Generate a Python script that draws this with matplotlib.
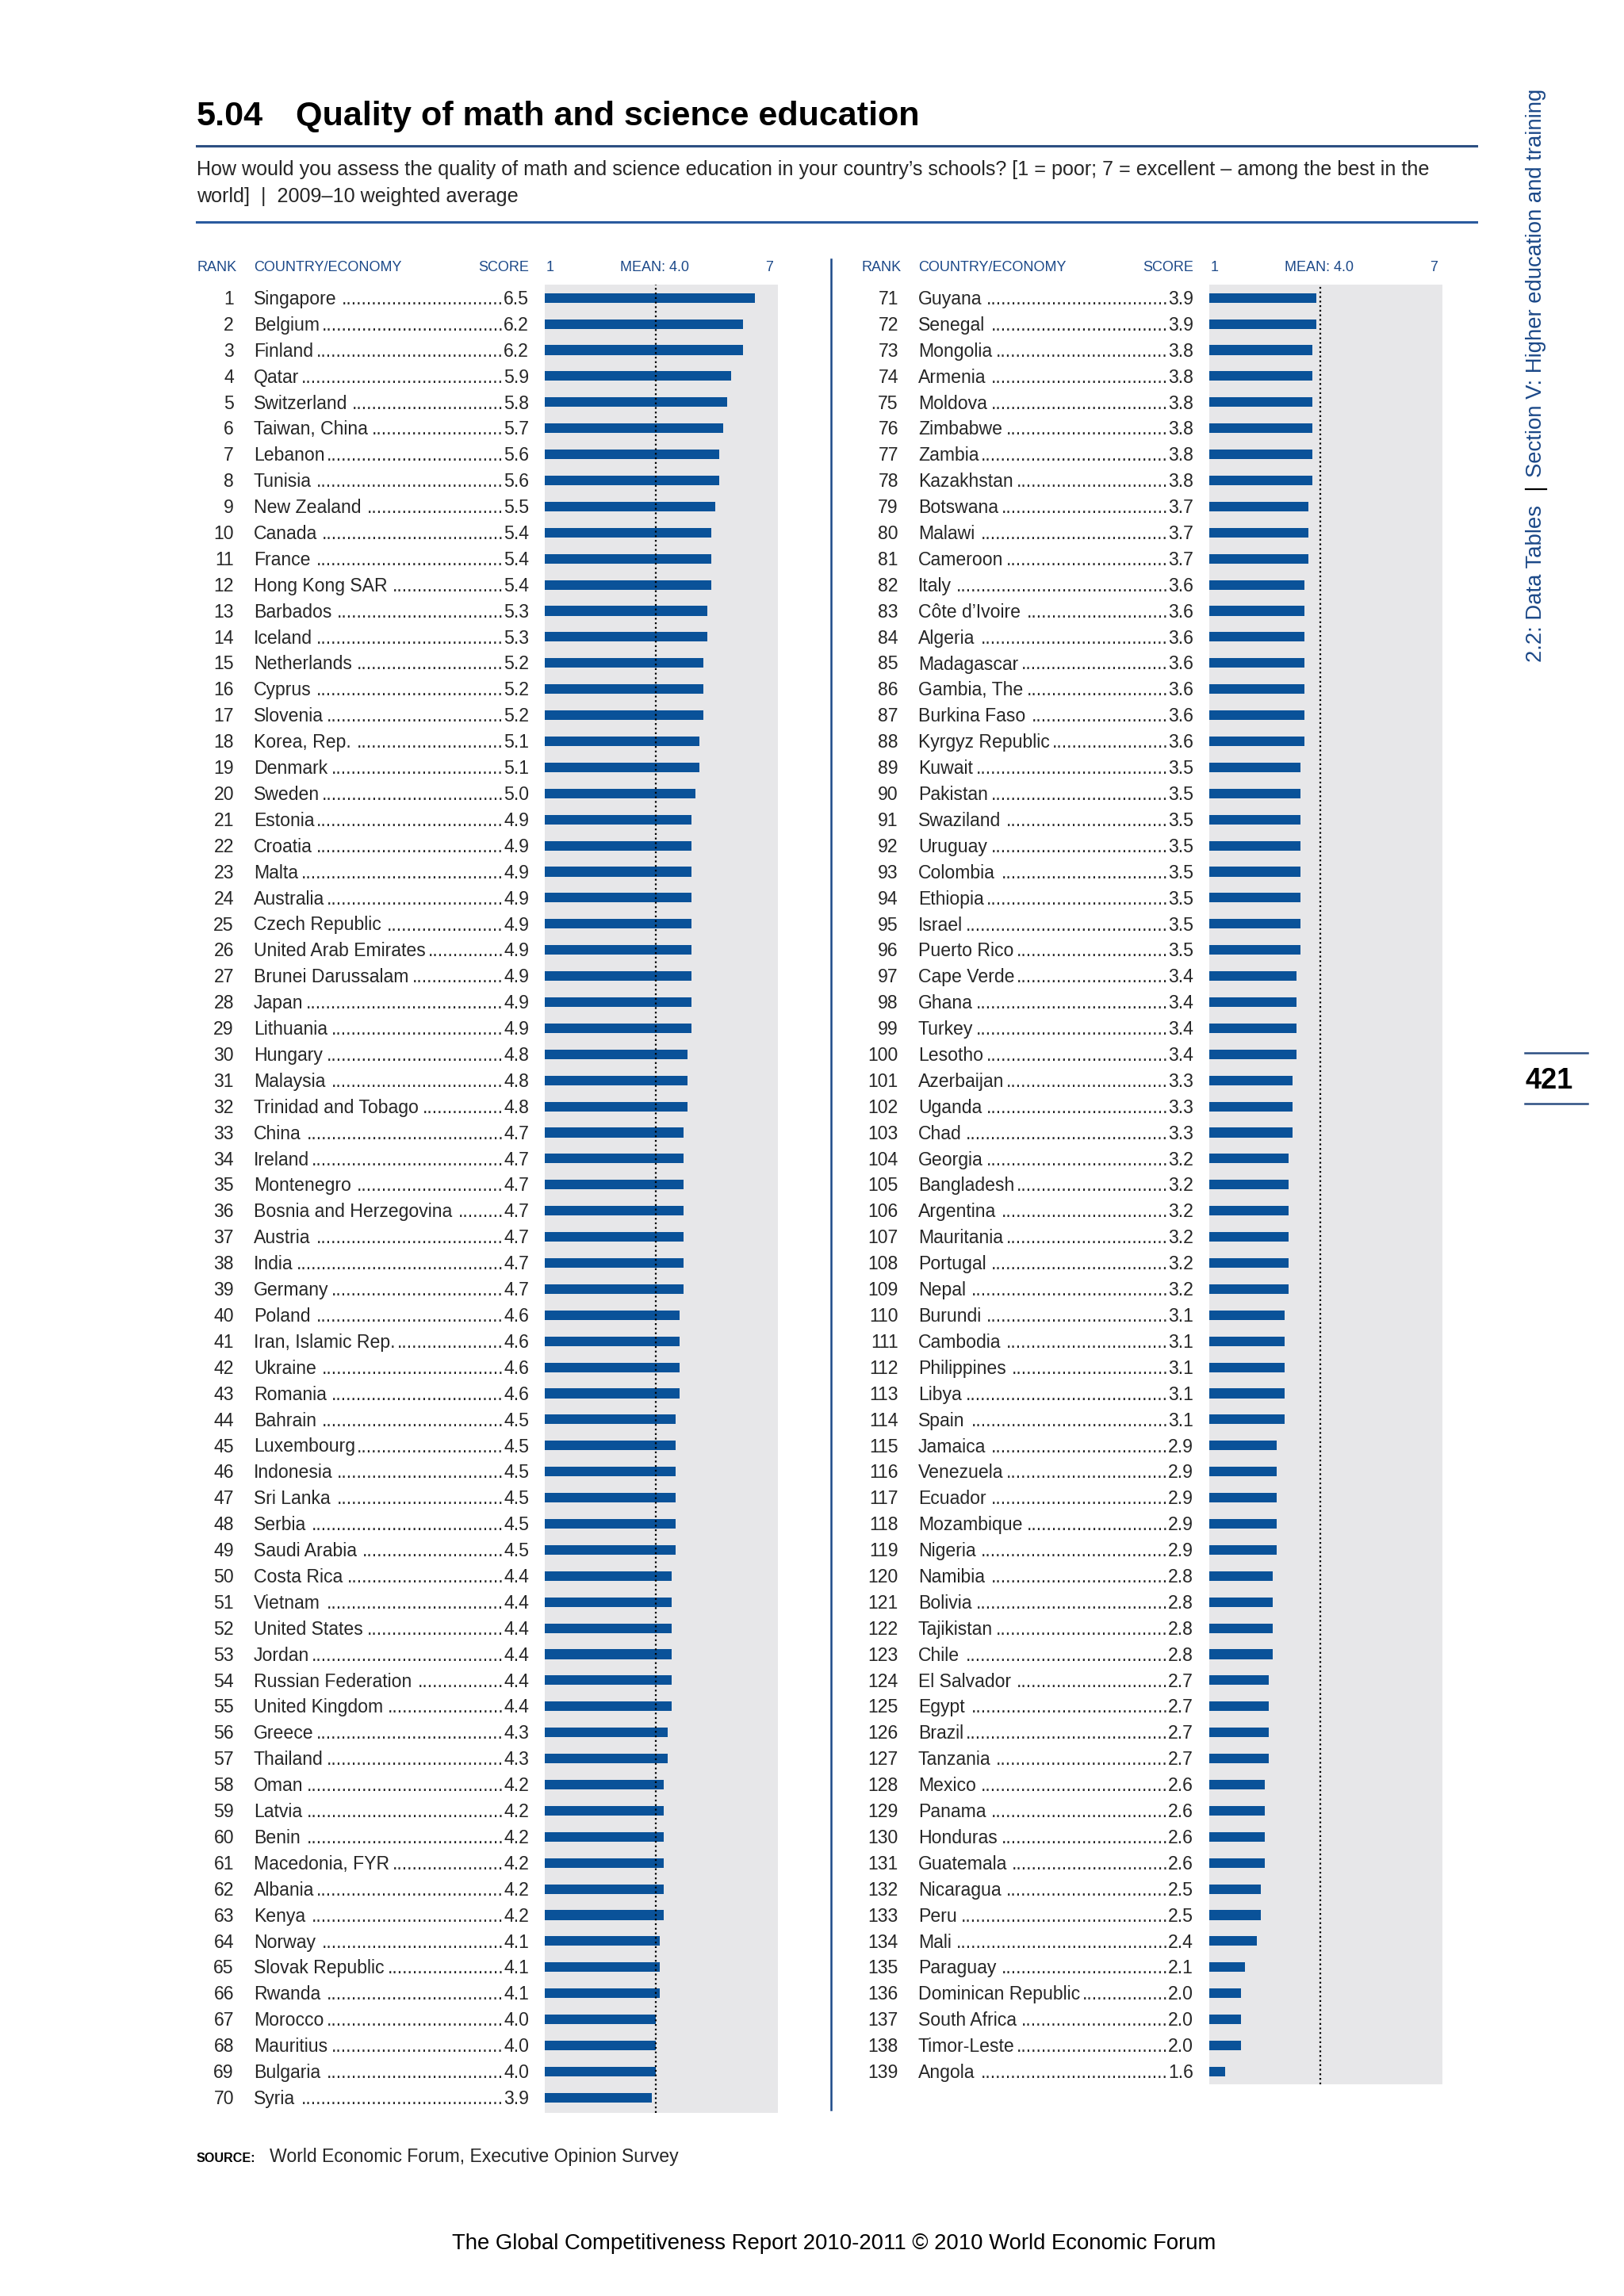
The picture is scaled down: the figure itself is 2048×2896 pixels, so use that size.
"""
Data table 5.04 -- Quality of math and science education (GCR 2010-2011).
Two-column ranked bar table, rebuilt as a single page figure.
"""

import matplotlib
matplotlib.use("Agg")
import matplotlib.pyplot as plt
from matplotlib.lines import Line2D


# ── Data ────────────────────────────────────────────────────────────────────
LEFT_COUNTRIES = [
    "Singapore", "Belgium", "Finland", "Qatar", "Switzerland", "Taiwan, China",
    "Lebanon", "Tunisia", "New Zealand", "Canada", "France", "Hong Kong SAR",
    "Barbados", "Iceland", "Netherlands", "Cyprus", "Slovenia", "Korea, Rep.",
    "Denmark", "Sweden", "Estonia", "Croatia", "Malta", "Australia",
    "Czech Republic", "United Arab Emirates", "Brunei Darussalam", "Japan",
    "Lithuania", "Hungary", "Malaysia", "Trinidad and Tobago", "China",
    "Ireland", "Montenegro", "Bosnia and Herzegovina", "Austria", "India",
    "Germany", "Poland", "Iran, Islamic Rep.", "Ukraine", "Romania", "Bahrain",
    "Luxembourg", "Indonesia", "Sri Lanka", "Serbia", "Saudi Arabia",
    "Costa Rica", "Vietnam", "United States", "Jordan", "Russian Federation",
    "United Kingdom", "Greece", "Thailand", "Oman", "Latvia", "Benin",
    "Macedonia, FYR", "Albania", "Kenya", "Norway", "Slovak Republic",
    "Rwanda", "Morocco", "Mauritius", "Bulgaria", "Syria",
]
LEFT_SCORES = [
    6.5, 6.2, 6.2, 5.9, 5.8, 5.7, 5.6, 5.6, 5.5, 5.4,
    5.4, 5.4, 5.3, 5.3, 5.2, 5.2, 5.2, 5.1, 5.1, 5.0,
    4.9, 4.9, 4.9, 4.9, 4.9, 4.9, 4.9, 4.9, 4.9, 4.8,
    4.8, 4.8, 4.7, 4.7, 4.7, 4.7, 4.7, 4.7, 4.7, 4.6,
    4.6, 4.6, 4.6, 4.5, 4.5, 4.5, 4.5, 4.5, 4.5, 4.4,
    4.4, 4.4, 4.4, 4.4, 4.4, 4.3, 4.3, 4.2, 4.2, 4.2,
    4.2, 4.2, 4.2, 4.1, 4.1, 4.1, 4.0, 4.0, 4.0, 3.9,
]
RIGHT_COUNTRIES = [
    "Guyana", "Senegal", "Mongolia", "Armenia", "Moldova", "Zimbabwe",
    "Zambia", "Kazakhstan", "Botswana", "Malawi", "Cameroon", "Italy",
    "Côte d’Ivoire", "Algeria", "Madagascar", "Gambia, The", "Burkina Faso",
    "Kyrgyz Republic", "Kuwait", "Pakistan", "Swaziland", "Uruguay",
    "Colombia", "Ethiopia", "Israel", "Puerto Rico", "Cape Verde", "Ghana",
    "Turkey", "Lesotho", "Azerbaijan", "Uganda", "Chad", "Georgia",
    "Bangladesh", "Argentina", "Mauritania", "Portugal", "Nepal", "Burundi",
    "Cambodia", "Philippines", "Libya", "Spain", "Jamaica", "Venezuela",
    "Ecuador", "Mozambique", "Nigeria", "Namibia", "Bolivia", "Tajikistan",
    "Chile", "El Salvador", "Egypt", "Brazil", "Tanzania", "Mexico", "Panama",
    "Honduras", "Guatemala", "Nicaragua", "Peru", "Mali", "Paraguay",
    "Dominican Republic", "South Africa", "Timor-Leste", "Angola",
]
RIGHT_SCORES = [
    3.9, 3.9, 3.8, 3.8, 3.8, 3.8, 3.8, 3.8, 3.7, 3.7,
    3.7, 3.6, 3.6, 3.6, 3.6, 3.6, 3.6, 3.6, 3.5, 3.5,
    3.5, 3.5, 3.5, 3.5, 3.5, 3.5, 3.4, 3.4, 3.4, 3.4,
    3.3, 3.3, 3.3, 3.2, 3.2, 3.2, 3.2, 3.2, 3.2, 3.1,
    3.1, 3.1, 3.1, 3.1, 2.9, 2.9, 2.9, 2.9, 2.9, 2.8,
    2.8, 2.8, 2.8, 2.7, 2.7, 2.7, 2.7, 2.6, 2.6, 2.6,
    2.6, 2.5, 2.5, 2.4, 2.1, 2.0, 2.0, 2.0, 1.6,
]
MEAN = 4.0

TITLE_NUM = "5.04"
TITLE = "Quality of math and science education"
SUBTITLE_1 = ("How would you assess the quality of math and science education in your "
              "country’s schools? [1 = poor; 7 = excellent – among the best in the")
SUBTITLE_2 = "world]  |  2009–10 weighted average"
SOURCE = "World Economic Forum, Executive Opinion Survey"
FOOTER = "The Global Competitiveness Report 2010-2011 © 2010 World Economic Forum"
SIDE_A = "2.2: Data Tables"
SIDE_B = "Section V: Higher education and training"
PAGE_NO = "421"


# ── Page geometry / style ───────────────────────────────────────────────────
W, H, DPI = 2048, 2896, 200
ROW0, ROW_STEP = 375.7, 32.9       # centre of first row, row pitch (px)
PANEL_DX = 838                      # offset of the right-hand column
BAR_X0, BAR_W = 687, 294            # grey plot box (px)
BOX_TOP = 359
X_MIN, X_MAX = 1.2, 7.08

BAR_BLUE = "#0a5299"
HEAD_BLUE = "#1b4888"
RULE_BLUE = "#2c4f82"
GREY_BG = "#e7e7e9"
INK = "#262626"

SANS = ["Liberation Sans", "DejaVu Sans"]
plt.rcParams["font.family"] = SANS

ROW_FS = 8.3
HEAD_FS = 6.5

fig = plt.figure(figsize=(W / DPI, H / DPI), dpi=DPI)
fig.patch.set_facecolor("white")
renderer = fig.canvas.get_renderer()


def put(x, y, s, **kw):
    return fig.text(x / W, 1 - y / H, s, **kw)


def width_px(t):
    return t.get_window_extent(renderer).width


def fit(t, target):
    t.set_fontsize(t.get_fontsize() * target / width_px(t))


def hline(x0, x1, y, lw, color):
    fig.add_artist(Line2D([x0 / W, x1 / W], [1 - y / H, 1 - y / H],
                          transform=fig.transFigure, lw=lw, color=color))


# ── Title block ─────────────────────────────────────────────────────────────
tt = put(373, 158, TITLE, weight="bold", fontsize=17, color="black")
fit(tt, 790)
put(248, 158, TITLE_NUM, weight="bold", fontsize=tt.get_fontsize(), color="black")
hline(248, 1862, 184, 1.1, RULE_BLUE)

t = put(248, 221, SUBTITLE_1, fontsize=8.3, color=INK)
fit(t, 1548)
put(248, 255, SUBTITLE_2, fontsize=t.get_fontsize(), color=INK)
hline(248, 1862, 280, 1.1, "#2a5a9e")


# ── Two ranked columns ──────────────────────────────────────────────────────
dot_probe = put(0, 0, "." * 40, fontsize=ROW_FS)
DOT_W = width_px(dot_probe) / 40
dot_probe.remove()


def draw_panel(dx, first_rank, names, scores, bottom_px):
    n = len(scores)
    ax = fig.add_axes([(BAR_X0 + dx) / W, 1 - bottom_px / H,
                       BAR_W / W, (bottom_px - BOX_TOP) / H])
    ax.set_facecolor(GREY_BG)
    ax.barh(range(n), [s - X_MIN for s in scores], left=X_MIN,
            height=0.37, color=BAR_BLUE, zorder=2)
    ax.axvline(MEAN, color="black", lw=0.8, ls=(0, (1, 1.6)), zorder=3)
    ax.set_xlim(X_MIN, X_MAX)
    ax.set_ylim((bottom_px - ROW0) / ROW_STEP, (BOX_TOP - ROW0) / ROW_STEP)
    ax.set_xticks([])
    ax.set_yticks([])
    for sp in ax.spines.values():
        sp.set_visible(False)

    # column headers
    hy = 342
    put(249 + dx, hy, "RANK", fontsize=HEAD_FS, color=HEAD_BLUE)
    put(320 + dx, hy, "COUNTRY/ECONOMY", fontsize=HEAD_FS, color=HEAD_BLUE)
    put(667 + dx, hy, "SCORE", fontsize=HEAD_FS, color=HEAD_BLUE, ha="right")
    put(689 + dx, hy, "1", fontsize=HEAD_FS, color=HEAD_BLUE)
    put(826 + dx, hy, f"MEAN: {MEAN:.1f}", fontsize=HEAD_FS, color=HEAD_BLUE, ha="center")
    put(970 + dx, hy, "7", fontsize=HEAD_FS, color=HEAD_BLUE, ha="center")

    # rank, name, dotted leader, score
    for i, (name, score) in enumerate(zip(names, scores)):
        yb = ROW0 + i * ROW_STEP + 8.2
        put(295 + dx, yb, str(first_rank + i), ha="right", fontsize=ROW_FS, color=INK)
        tn = put(320 + dx, yb, name, fontsize=ROW_FS, color=INK)
        ts = put(667 + dx, yb, f"{score:.1f}", ha="right", fontsize=ROW_FS, color=INK)
        score_left = 667 + dx - width_px(ts)
        gap = score_left - (320 + dx + width_px(tn)) - 2
        if gap > DOT_W:
            put(score_left, yb, "." * int(gap / DOT_W), ha="right",
                fontsize=ROW_FS, color=INK)


draw_panel(0, 1, LEFT_COUNTRIES, LEFT_SCORES, 2665)
draw_panel(PANEL_DX, 71, RIGHT_COUNTRIES, RIGHT_SCORES, 2629)

# column divider
fig.add_artist(Line2D([1048 / W, 1048 / W], [1 - 327 / H, 1 - 2661 / H],
                      transform=fig.transFigure, lw=0.9, color=HEAD_BLUE))


# ── Source + footer ─────────────────────────────────────────────────────────
put(248, 2727, "SOURCE:", fontsize=5.8, weight="bold", color="black")
put(340, 2727, SOURCE, fontsize=ROW_FS, color=INK)
t = put(1052, 2837, FOOTER, fontsize=9.5, color="black", ha="center")
fit(t, 965)


# ── Side tab: section label + page number ───────────────────────────────────
ts = put(1937, 602, SIDE_B, fontsize=10, color=HEAD_BLUE, ha="center", va="bottom")
fit(ts, 490)
ts.set_rotation(90)
put(1937, 835, SIDE_A, fontsize=ts.get_fontsize(), color=HEAD_BLUE,
    ha="center", va="bottom", rotation=90)
fig.add_artist(Line2D([1924 / W, 1950 / W], [1 - 617 / H, 1 - 617 / H],
                      transform=fig.transFigure, lw=0.8, color="black"))

hline(1923, 2002, 1328, 0.9, RULE_BLUE)
hline(1923, 2002, 1392, 0.9, RULE_BLUE)
put(1923, 1373, PAGE_NO, weight="bold", fontsize=13, color="black")

fig.savefig("out.png", dpi=DPI, facecolor="white")
